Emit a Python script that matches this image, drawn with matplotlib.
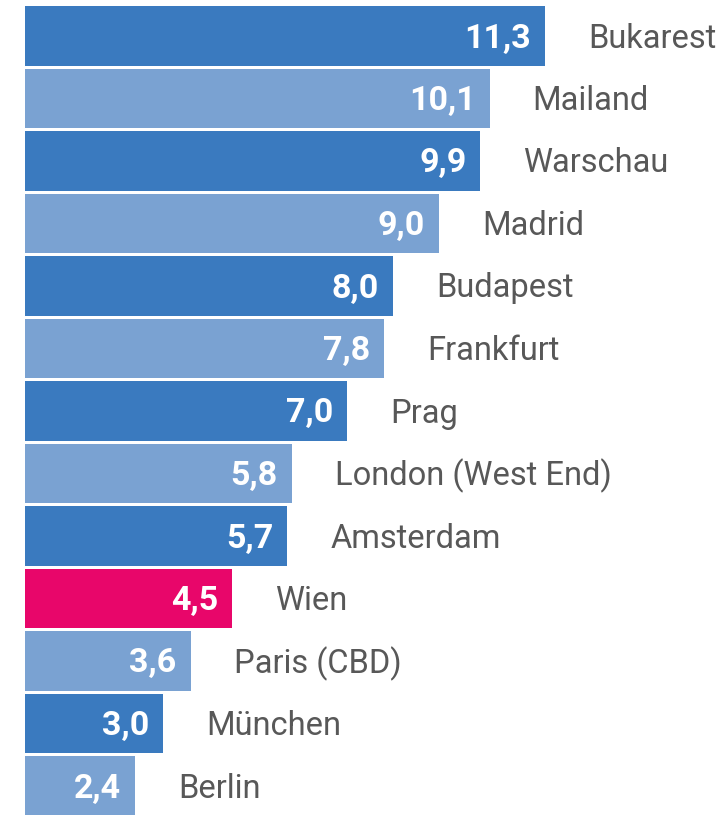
import matplotlib
matplotlib.use("Agg")
import matplotlib.pyplot as plt

cities = ["Bukarest", "Mailand", "Warschau", "Madrid", "Budapest", "Frankfurt", "Prag",
          "London (West End)", "Amsterdam", "Wien", "Paris (CBD)", "München", "Berlin"]
values = [11.3, 10.1, 9.9, 9.0, 8.0, 7.8, 7.0, 5.8, 5.7, 4.5, 3.6, 3.0, 2.4]
highlight = "Wien"

DARK = "#3a7abf"
LIGHT = "#7aa2d2"
PINK = "#e8066a"

W, H = 723, 815
fig = plt.figure(figsize=(W / 100, H / 100), dpi=100)
ax = fig.add_axes([0, 0, 1, 1])

px_per_unit = 46.0
x0 = 25
pitch = 62.5
first_center = 36

ax.set_xlim(-x0 / px_per_unit, (W - x0) / px_per_unit)
ax.set_ylim((H - first_center) / pitch, -first_center / pitch)
ax.axis("off")

colors = []
j = 0
for c in cities:
    if c == highlight:
        colors.append(PINK)
    else:
        colors.append(DARK if j % 2 == 0 else LIGHT)
        j += 1

ypos = list(range(len(cities)))
ax.barh(ypos, values, height=0.955, color=colors, edgecolor="none")

in_off = 14 / px_per_unit
out_off = 43 / px_per_unit
dy = 2.5 / pitch
for y, v, c in zip(ypos, values, cities):
    ax.text(v - in_off, y + dy, f"{v:.1f}".replace(".", ","), ha="right", va="center",
            color="white", fontsize=24.5, fontweight="bold", family="Roboto")
    ax.text(v + out_off, y + dy, c, ha="left", va="center", color="#585858",
            fontsize=23.5, family="Roboto")

fig.savefig("out.png", dpi=100)
